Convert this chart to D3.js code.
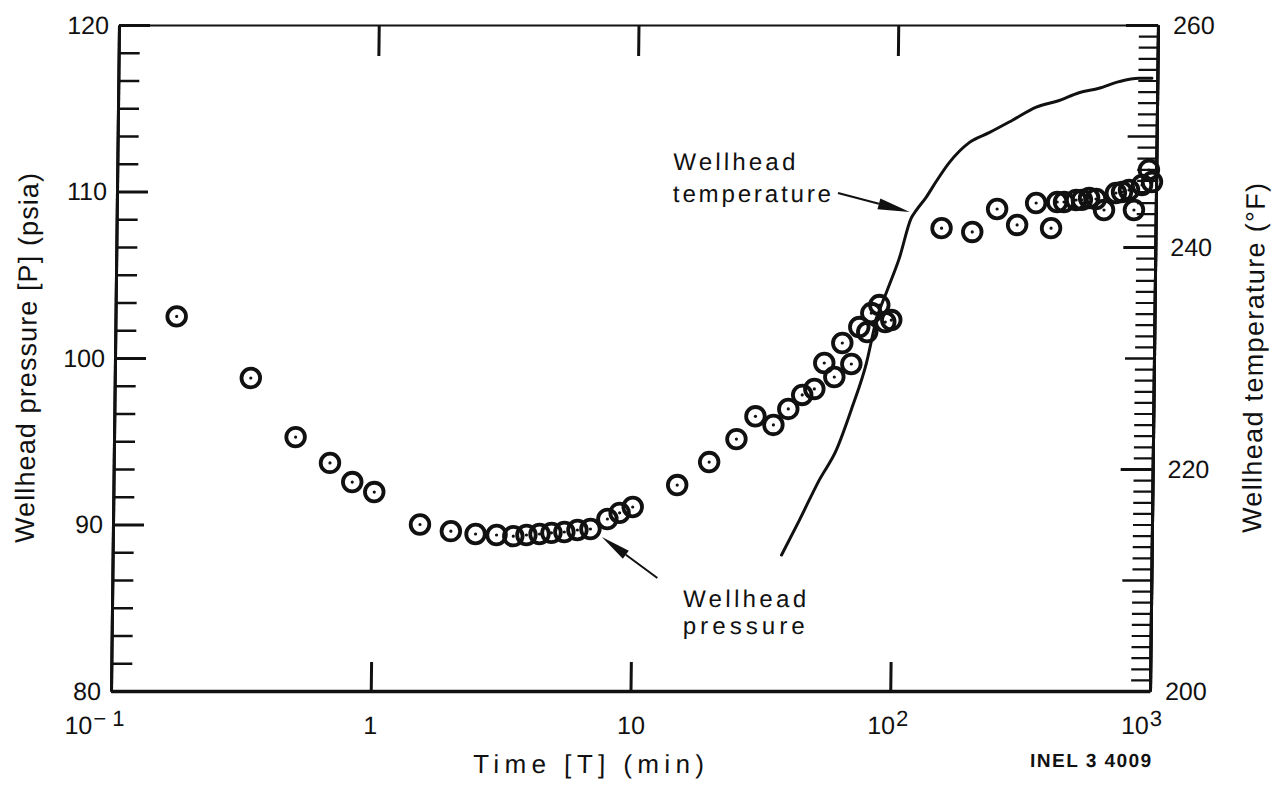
<!DOCTYPE html>
<html>
<head>
<meta charset="utf-8">
<script src="https://cdn.jsdelivr.net/npm/d3@7"></script>
<style>
  body { margin: 0; background: #fff; }
  svg { display: block; }
  text { font-family: "Liberation Sans", Arial, Helvetica, sans-serif; fill: #111; }
</style>
</head>
<body>
<svg id="chart" width="1283" height="785"></svg>
<script>
// Wellhead pressure readings (time in minutes, pressure in psia)
const pressureTime = [0.172, 0.334, 0.50, 0.68, 0.83, 1.01, 1.52, 2.0, 2.49, 3.0,
  3.48, 3.91, 4.39, 4.88, 5.47, 6.14, 6.89, 8.0, 8.91, 10.0,
  14.8, 19.6, 24.9, 29.4, 34.5, 39.3, 44.4, 49.4, 53.8, 58.9,
  63.0, 68.4, 73.1, 78.5, 81.2, 87.1, 92.0, 97.0, 150, 197,
  245, 293, 346, 396, 417, 443, 493, 519, 553, 588,
  632, 701, 740, 787, 824, 883, 937, 964];
const pressurePsia = [102.5, 98.8, 95.25, 93.7, 92.55, 91.95, 90.0, 89.6, 89.43, 89.37,
  89.3, 89.37, 89.43, 89.5, 89.55, 89.67, 89.73, 90.33, 90.7, 91.05,
  92.37, 93.75, 95.13, 96.5, 95.98, 96.94, 97.78, 98.14, 99.7, 98.86,
  100.9, 99.64, 101.86, 101.56, 102.7, 103.18, 102.16, 102.28, 107.8, 107.57,
  108.95, 107.99, 109.31, 107.8, 109.37, 109.37, 109.49, 109.5, 109.61, 109.55,
  108.89, 109.91, 109.97, 110.09, 108.89, 110.39, 111.29, 110.57];

// Wellhead temperature trace (time in minutes, temperature in °F)
const tempTime = [37.6, 43.9, 52.1, 60.4, 69.3, 78.1, 84.9, 93.3, 103.5, 114.5,
  119.6, 130.6, 142.3, 159.5, 189.9, 226.5, 277, 343, 420, 500,
  597, 713, 849, 953];
const tempF = [212.25, 215.4, 219.0, 221.7, 225.6, 229.5, 233.4, 236.1, 239.0, 242.6,
  243.3, 244.5, 245.9, 247.6, 249.4, 250.3, 251.4, 252.6, 253.2, 253.9,
  254.3, 254.9, 255.2, 255.2];

// Axis ticks and labels
const timeTicks = [0.1, 1, 10, 100, 1000];
const timeTickBase = ["10", "1", "10", "10", "10"];
const timeTickExp = ["\u2212 1", "", "", "2", "3"];
const pressureTicks = [80, 90, 100, 110, 120];
const tempTicks = [200, 220, 240, 260];

const ink = "#111";
const m = { left: 111, right: 1150, top: 25, bottom: 691 };

const x = d3.scaleLog().domain([0.1, 1000]).range([m.left, m.right]);
const yP = d3.scaleLinear().domain([80, 120]).range([m.bottom, m.top]);
const yT = d3.scaleLinear().domain([200, 260]).range([m.bottom, m.top]);

const svg = d3.select("#chart");
// the whole sheet leans slightly to the right towards the top
const shear = -8 / 666;
const root = svg.append("g")
  .attr("transform", `translate(0,${m.bottom}) matrix(1,0,${shear},1,0,0) translate(0,${-m.bottom})`);

function styleAxis(g, domainWidth, tickWidth) {
  g.select(".domain").attr("stroke", ink).attr("stroke-width", domainWidth);
  g.selectAll(".tick line").attr("stroke", ink).attr("stroke-width", tickWidth);
}

// ---- bottom axis (decade ticks pointing up)
const gBottom = root.append("g").attr("transform", `translate(0,${m.bottom})`)
  .call(d3.axisBottom(x).tickValues([1, 10, 100]).tickSizeInner(-29).tickSizeOuter(0).tickFormat(""));
styleAxis(gBottom, 3.5, 3);

const labelShift = [-16, 0, 1, -2, -8];
const tl = root.append("g").attr("font-size", 25);
timeTicks.forEach((t, i) => {
  const txt = tl.append("text")
    .attr("x", x(t) + labelShift[i])
    .attr("y", 734)
    .attr("text-anchor", "middle");
  txt.append("tspan").text(timeTickBase[i]);
  if (timeTickExp[i]) {
    txt.append("tspan").attr("font-size", 22).attr("dy", -8).attr("dx", 1).text(timeTickExp[i]);
  }
});

// ---- top axis
const gTop = root.append("g").attr("transform", `translate(0,${m.top})`)
  .call(d3.axisTop(x).tickValues([1, 10, 100]).tickSizeInner(-31).tickSizeOuter(0).tickFormat(""));
styleAxis(gTop, 2, 3);

// ---- left axis: pressure
const pressureMinor = d3.range(80, 120.01, 10 / 6).filter(v => Math.abs(v / 10 - Math.round(v / 10)) > 0.01);
const gLeftMinor = root.append("g").attr("transform", `translate(${m.left},0)`)
  .call(d3.axisLeft(yP).tickValues(pressureMinor).tickSizeInner(-21).tickSizeOuter(0).tickFormat(""));
styleAxis(gLeftMinor, 3, 2.5);
const gLeft = root.append("g").attr("transform", `translate(${m.left},0)`)
  .call(d3.axisLeft(yP).tickValues(pressureTicks).tickSizeInner(-31).tickSizeOuter(0).tickPadding(10));
styleAxis(gLeft, 3, 3);
gLeft.selectAll(".tick text").attr("font-size", 25).attr("fill", ink)
  .attr("font-family", '"Liberation Sans", Arial, sans-serif');

// ---- right axis: temperature (1 °F graduations)
const tempMinor = d3.range(201, 260).filter(v => v % 10 !== 0);
const tempTens = d3.range(210, 260, 20);
const gRightMinor = root.append("g").attr("transform", `translate(${m.right},0)`)
  .call(d3.axisRight(yT).tickValues(tempMinor).tickSizeInner(-19).tickSizeOuter(0).tickFormat(""));
styleAxis(gRightMinor, 3, 2.2);
const gRightTens = root.append("g").attr("transform", `translate(${m.right},0)`)
  .call(d3.axisRight(yT).tickValues(tempTens).tickSizeInner(-29).tickSizeOuter(0).tickFormat(""));
styleAxis(gRightTens, 3, 2.6);
const gRight = root.append("g").attr("transform", `translate(${m.right},0)`)
  .call(d3.axisRight(yT).tickValues(tempTicks).tickSizeInner(-32).tickSizeOuter(0).tickPadding(15));
styleAxis(gRight, 3, 2.8);
gRight.selectAll(".tick text").attr("font-size", 25).attr("fill", ink)
  .attr("font-family", '"Liberation Sans", Arial, sans-serif');

// ---- axis titles
root.append("text")
  .attr("transform", `translate(32,358) rotate(-90)`)
  .attr("text-anchor", "middle").attr("font-size", 27)
  .attr("textLength", 370).attr("lengthAdjust", "spacing")
  .text("Wellhead pressure [P] (psia)");
root.append("text")
  .attr("transform", `translate(1259,358) rotate(-90)`)
  .attr("text-anchor", "middle").attr("font-size", 27)
  .attr("textLength", 350).attr("lengthAdjust", "spacing")
  .text("Wellhead temperature (\u00B0F)");
root.append("text")
  .attr("x", 474).attr("y", 773).attr("font-size", 26)
  .attr("textLength", 231).attr("lengthAdjust", "spacing")
  .text("Time [T] (min)");
root.append("text")
  .attr("x", 1031).attr("y", 767).attr("font-size", 19).attr("font-weight", "bold")
  .attr("textLength", 121).attr("lengthAdjust", "spacing")
  .text("INEL 3 4009");

// ---- temperature trace
const tempData = tempTime.map((t, i) => ({ t, v: tempF[i] }));
root.append("path")
  .datum(tempData)
  .attr("fill", "none").attr("stroke", ink).attr("stroke-width", 3)
  .attr("stroke-linejoin", "round").attr("stroke-linecap", "round")
  .attr("d", d3.line().curve(d3.curveMonotoneX).x(d => x(d.t)).y(d => yT(d.v)));

// ---- pressure markers: ring with a centre dot
const pressureData = pressureTime.map((t, i) => ({ t, v: pressurePsia[i] }));
const pts = root.append("g");
pts.selectAll("circle.ring").data(pressureData).join("circle")
  .attr("class", "ring")
  .attr("cx", d => x(d.t)).attr("cy", d => yP(d.v)).attr("r", 9.3)
  .attr("fill", "none").attr("stroke", ink).attr("stroke-width", 3.8);
pts.selectAll("circle.dot").data(pressureData).join("circle")
  .attr("class", "dot")
  .attr("cx", d => x(d.t)).attr("cy", d => yP(d.v)).attr("r", 1.6)
  .attr("fill", ink);

// ---- annotations
function arrow(x1, y1, x2, y2, headLen, headHalf) {
  const a = Math.atan2(y2 - y1, x2 - x1);
  const bx = x2 - headLen * Math.cos(a), by = y2 - headLen * Math.sin(a);
  root.append("line").attr("x1", x1).attr("y1", y1).attr("x2", bx).attr("y2", by)
    .attr("stroke", ink).attr("stroke-width", 2);
  const px = -Math.sin(a) * headHalf, py = Math.cos(a) * headHalf;
  root.append("path")
    .attr("d", `M${x2},${y2}L${bx + px},${by + py}L${bx - px},${by - py}Z`)
    .attr("fill", ink);
}

const ann = root.append("g").attr("font-size", 24);
ann.append("text").attr("x", 667).attr("y", 170)
  .attr("textLength", 122).attr("lengthAdjust", "spacing").text("Wellhead");
ann.append("text").attr("x", 667).attr("y", 202)
  .attr("textLength", 158).attr("lengthAdjust", "spacing").text("temperature");
arrow(832, 193, 904, 212, 32, 5.5);

ann.append("text").attr("x", 682).attr("y", 607)
  .attr("textLength", 123).attr("lengthAdjust", "spacing").text("Wellhead");
ann.append("text").attr("x", 682).attr("y", 634)
  .attr("textLength", 122).attr("lengthAdjust", "spacing").text("pressure");
arrow(656, 578, 600, 537, 30, 5);
</script>
</body>
</html>
